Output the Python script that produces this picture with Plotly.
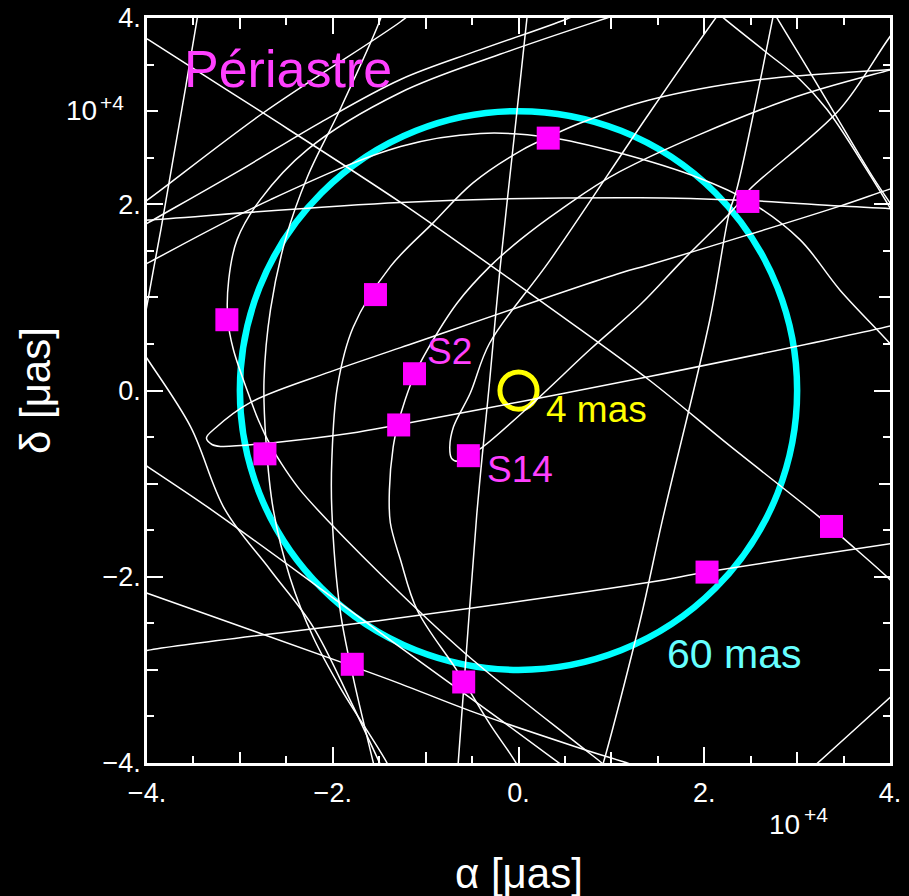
import plotly.graph_objects as go

# All positions below are in units of 10^4 micro-arcseconds (µas)
UNIT = 1e4

# Periastron positions of the stars (alpha, delta)
peri_alpha = [0.32, 2.47, -1.54, -3.14, -1.12, -1.29, -0.54, -2.73, 3.37, 2.03, -1.79, -0.59]
peri_delta = [2.71, 2.03, 1.03, 0.76, 0.18, -0.37, -0.70, -0.68, -1.46, -1.95, -2.94, -3.13]

# Projected orbit tracks (alpha, delta)
orbit_01 = [(-3.42, 4.20), (-3.46, 3.99), (-3.58, 3.28), (-3.73, 2.42), (-3.85, 1.73),
            (-3.93, 1.30), (-3.99, 0.97), (-4.05, 0.65)]
orbit_02 = [(-4.23, 3.93), (-3.99, 3.77), (-2.75, 2.98), (-1.27, 2.02), (-0.38, 1.40),
            (0.45, 0.81), (1.41, 0.11), (2.27, -0.59), (3.24, -1.36), (3.49, -1.58),
            (4.03, -2.06), (4.26, -2.31)]
orbit_03 = [(-4.18, 1.92), (-3.99, 2.05), (-2.75, 2.98), (-1.27, 3.96), (-1.11, 4.09)]
orbit_04 = [(-4.18, 1.69), (-3.99, 1.80), (-2.99, 2.37), (-2.13, 2.88), (-1.27, 3.34),
            (-0.41, 3.66), (0.52, 3.99), (0.88, 4.15)]
orbit_05 = [(1.41, 4.15), (0.98, 4.01), (-0.20, 3.61), (-1.27, 3.20), (-2.27, 2.59),
            (-2.78, 2.05), (-3.03, 1.62), (-3.12, 1.19), (-3.13, 0.76), (-3.07, 0.44),
            (-2.91, -0.03), (-2.80, -0.32), (-2.67, -0.59), (-2.51, -0.85), (-2.35, -1.07),
            (-2.06, -1.39), (-1.27, -2.18), (-0.52, -2.87), (0.63, -3.79), (0.91, -4.01),
            (1.04, -4.13)]
orbit_06 = [(-4.18, 1.27), (-3.99, 1.37), (-2.67, 2.05), (-1.27, 2.62), (-0.41, 2.76),
            (0.32, 2.72), (1.09, 2.55), (1.95, 2.28), (2.47, 2.04), (3.03, 1.62),
            (3.46, 1.08), (4.03, 0.47), (4.21, 0.24)]
orbit_07 = [(-4.18, 1.82), (-3.99, 1.83), (-1.27, 2.02), (1.31, 2.07), (2.47, 2.04),
            (3.46, 1.98), (4.03, 1.95), (4.21, 1.93)]
orbit_08 = [(2.78, 4.20), (2.74, 4.01), (2.56, 3.12), (2.35, 2.16), (2.27, 1.91),
            (2.06, 0.76), (1.55, -1.39), (1.31, -2.47), (0.91, -4.01), (0.85, -4.19)]
orbit_s14 = [(4.26, 4.09), (4.03, 3.84), (3.46, 3.02), (2.49, 2.16), (2.31, 1.94),
             (1.77, 1.40), (1.31, 0.92), (0.77, 0.44), (0.16, -0.13), (-0.39, -0.61),
             (-0.54, -0.70), (-0.65, -0.76), (-0.72, -0.73), (-0.74, -0.61), (-0.70, -0.39),
             (-0.52, -0.03), (-0.31, 0.51), (0.34, 1.40), (1.41, 2.98), (2.13, 4.01),
             (2.27, 4.20)]
orbit_10 = [(4.21, 2.22), (3.99, 2.16), (3.46, 1.98), (1.41, 1.35), (1.09, 1.26),
            (-1.27, 0.46), (-2.03, 0.20), (-2.89, -0.13), (-3.26, -0.40), (-3.36, -0.51),
            (-3.30, -0.58), (-3.21, -0.60), (-2.64, -0.56), (-1.81, -0.46), (-1.30, -0.37),
            (0.02, -0.12), (1.41, 0.15), (4.03, 0.70), (4.21, 0.75)]
orbit_11 = [(0.11, 4.20), (0.09, 3.99), (-0.05, 2.69), (-0.20, 1.30), (-0.31, 0.11),
            (-0.45, -1.34), (-0.65, -4.01), (-0.67, -4.19)]
orbit_12 = [(-1.49, -4.30), (-1.56, -4.01), (-1.78, -3.08), (-1.92, -2.36), (-2.01, -1.28),
            (-2.01, -0.75), (-1.95, 0.04), (-1.78, 0.68), (-1.38, 1.33), (-0.92, 1.80),
            (-0.49, 2.23), (0.05, 2.59), (0.32, 2.72), (0.66, 2.87), (1.41, 3.12),
            (2.60, 3.34), (4.03, 3.45), (4.21, 3.47)]
orbit_s2 = [(0.12, -4.30), (-0.02, -4.01), (-0.31, -3.58), (-0.66, -3.01), (-1.09, -2.36),
            (-1.27, -1.82), (-1.38, -1.42), (-1.39, -1.07), (-1.35, -0.61), (-1.30, -0.37),
            (-1.22, -0.10), (-1.11, 0.19), (-0.98, 0.44), (-0.66, 0.94), (-0.31, 1.33),
            (0.02, 1.62), (0.45, 1.94), (1.09, 2.35), (2.89, 3.12), (4.03, 3.45), (4.21, 3.50)]
orbit_14 = [(-1.44, 4.15), (-1.49, 3.98), (-1.92, 3.02), (-2.27, 2.30), (-2.51, 1.62),
            (-2.67, 0.87), (-2.74, 0.11), (-2.72, -0.53), (-2.64, -1.28), (-2.46, -2.01),
            (-2.21, -2.65), (-1.92, -3.19), (-1.41, -4.01), (-1.33, -4.19)]
orbit_15 = [(-4.06, 0.44), (-3.99, 0.33), (-3.53, -0.39), (-3.16, -1.28), (-2.67, -1.93),
            (-2.21, -2.54), (-1.81, -3.33), (-1.49, -4.01), (-1.38, -4.24)]
orbit_16 = [(-4.18, -2.11), (-3.99, -2.18), (-1.79, -2.96), (-1.27, -3.15), (-0.52, -3.44),
            (0.63, -3.83), (1.20, -4.01), (1.41, -4.08)]
orbit_17 = [(-4.18, -2.84), (-3.99, -2.79), (-1.27, -2.44), (1.41, -2.06), (2.02, -1.95),
            (4.03, -1.64), (4.21, -1.61)]
orbit_18 = [(-4.18, -0.69), (-3.99, -0.82), (-3.35, -1.25), (-2.21, -2.07), (-1.38, -2.68),
            (-0.52, -3.30), (0.45, -4.01), (0.66, -4.17)]
orbit_19 = [(2.11, 4.09), (2.22, 3.99), (2.67, 3.63), (3.03, 3.34), (3.32, 3.02),
            (3.75, 2.37), (4.03, 1.91), (4.16, 1.67)]
orbit_20 = [(2.70, 4.15), (2.79, 3.99), (3.10, 3.48), (3.46, 2.88), (3.81, 2.30),
            (4.03, 1.97), (4.16, 1.78)]
orbit_21 = [(3.03, -4.17), (3.21, -4.01), (4.03, -3.27), (4.21, -3.11)]

orbits = [orbit_01, orbit_02, orbit_03, orbit_04, orbit_05, orbit_06, orbit_07, orbit_08,
          orbit_s14, orbit_10, orbit_11, orbit_12, orbit_s2, orbit_14, orbit_15, orbit_16,
          orbit_17, orbit_18, orbit_19, orbit_20, orbit_21]

# Reference circles: diameters in mas (1 mas = 1000 µas)
big_circle_mas = 60
small_circle_mas = 4

# Axis ticks: labelled majors, unlabelled intermediate ticks, and minor step
major_vals = [-4, -2, 0, 2, 4]
major_text = ["\u22124.", "\u22122.", "0.", "2.", "4."]
mid_vals = [-3, -1, 1, 3]
minor_step = 0.5
axis_range = [-4, 4]

FONT = "Liberation Sans, Arial, sans-serif"
MAGENTA_TXT = "#ff40ff"

fig = go.Figure()

for trk in orbits:
    fig.add_trace(go.Scatter(
        x=[p[0] * UNIT for p in trk], y=[p[1] * UNIT for p in trk],
        mode="lines", line=dict(color="white", width=1.5, shape="spline", smoothing=1.0),
        hoverinfo="skip", showlegend=False))

fig.add_trace(go.Scatter(
    x=[a * UNIT for a in peri_alpha], y=[d * UNIT for d in peri_delta],
    mode="markers", marker=dict(symbol="square", size=23, color="#ff00ff", line=dict(width=0)),
    showlegend=False, hoverinfo="skip"))

# helper trace for the overlay axes carrying the intermediate ticks
fig.add_trace(go.Scatter(x=[None], y=[None], xaxis="x2", yaxis="y2", showlegend=False,
                         hoverinfo="skip"))

r_big = big_circle_mas / 2 * 1000
r_small = small_circle_mas / 2 * 1000
fig.add_shape(type="circle", xref="x", yref="y", x0=-r_big, x1=r_big, y0=-r_big, y1=r_big,
              line=dict(color="#00ffff", width=6.5), layer="below")
fig.add_shape(type="circle", xref="x", yref="y", x0=-r_small, x1=r_small, y0=-r_small, y1=r_small,
              line=dict(color="#ffff00", width=5), layer="below")


def label(text, x, y, size, color):
    fig.add_annotation(text=text, x=x * UNIT, y=y * UNIT, xref="x", yref="y",
                       xanchor="left", yanchor="middle", showarrow=False,
                       font=dict(family=FONT, size=size, color=color))


label("Périastre", -3.62, 3.45, 52, MAGENTA_TXT)
label("S2", -1.005, 0.42, 37, MAGENTA_TXT)
label("S14", -0.36, -0.85, 37, MAGENTA_TXT)
label("4 mas", 0.275, -0.20, 37, "#ffff00")
label("60 mas", 1.577, -2.83, 41, "#66ffff")


def paper_text(text, x, y, size, angle=0):
    fig.add_annotation(text=text, x=x, y=y, xref="paper", yref="paper",
                       xanchor="center", yanchor="middle", showarrow=False, textangle=angle,
                       font=dict(family=FONT, size=size, color="white"))


# axis titles
paper_text("\u03b1 [\u03bcas]", 0.5, -0.1485, 42)
paper_text("\u03b4 [\u03bcas]", -0.150, 0.5, 42, angle=-90)
# exponent markers of the tick labels (10^+4)
paper_text("10", -0.0875, 0.8752, 28)
paper_text("+4", -0.0465, 0.8860, 21)
paper_text("10", 0.8580, -0.0819, 28)
paper_text("+4", 0.8998, -0.0690, 21)

common = dict(showgrid=False, zeroline=False, ticks="inside", tickcolor="white", tickwidth=2,
              automargin=False, range=[v * UNIT for v in axis_range])
minor = dict(dtick=minor_step * UNIT, tick0=0, ticks="inside", ticklen=7,
             tickcolor="white", tickwidth=2, showgrid=False)
fig.update_layout(
    width=909, height=896, autosize=False,
    margin=dict(l=147, r=19, t=18, b=133, pad=0, autoexpand=False),
    paper_bgcolor="black", plot_bgcolor="black",
    xaxis=dict(tickvals=[v * UNIT for v in major_vals], ticktext=major_text, ticklen=16,
               showline=True, linecolor="white", linewidth=2.5, mirror="ticks",
               tickfont=dict(family=FONT, size=27, color="white"), ticklabelstandoff=4,
               minor=minor, **common),
    yaxis=dict(tickvals=[v * UNIT for v in major_vals], ticktext=major_text, ticklen=16,
               showline=True, linecolor="white", linewidth=2.5, mirror="ticks",
               tickfont=dict(family=FONT, size=27, color="white"), ticklabelstandoff=-2,
               minor=minor, **common),
    xaxis2=dict(tickvals=[v * UNIT for v in mid_vals], overlaying="x", anchor="y", ticklen=11,
                showline=False, mirror="ticks", showticklabels=False, **common),
    yaxis2=dict(tickvals=[v * UNIT for v in mid_vals], overlaying="y", anchor="x", ticklen=11,
                showline=False, mirror="ticks", showticklabels=False, **common),
)

fig.write_html("out.html")
